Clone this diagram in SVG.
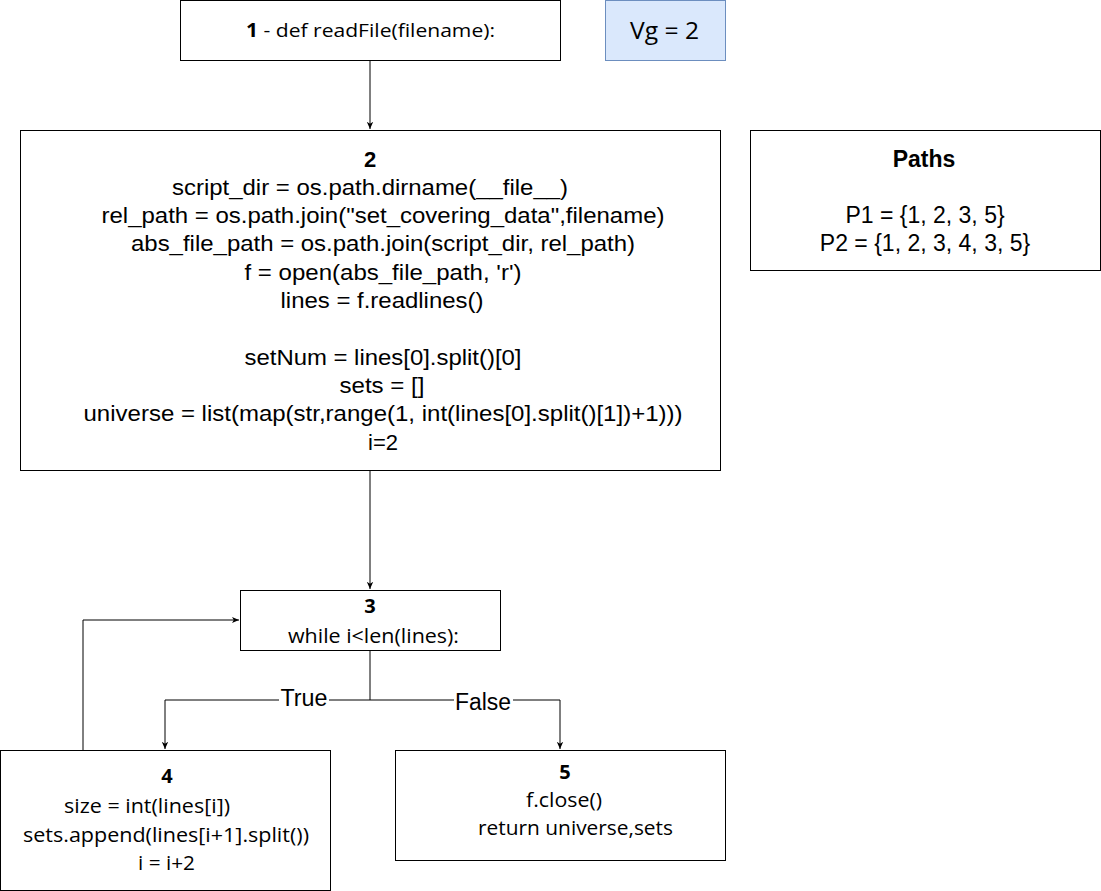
<svg xmlns="http://www.w3.org/2000/svg" width="1101" height="891" viewBox="0 0 1101 891">
  <style>
    .box { fill: #ffffff; stroke: #000000; stroke-width: 1; }
    .vg { fill: #dae8fc; stroke: #6c8ebf; stroke-width: 1; }
    .edge { fill: none; stroke: #000000; stroke-width: 1; }
    .code { font-family: "Liberation Sans", Arial, sans-serif; font-size: 22px; fill: #000; text-anchor: middle; }
    .ui { font-family: "Open Sans", "Liberation Sans", sans-serif; font-size: 19px; fill: #000; }
    .cal { font-family: "Open Sans", "Liberation Sans", sans-serif; font-size: 20px; fill: #000; }
    .b { font-weight: bold; }
    .lbl { font-family: "Liberation Sans", Arial, sans-serif; font-size: 23px; fill: #000; text-anchor: middle; }
    .side { font-family: "Liberation Sans", Arial, sans-serif; font-size: 23px; fill: #000; text-anchor: middle; }
  </style>
  <defs>
    <marker id="arrow" viewBox="0 0 10 10" refX="9" refY="5" markerWidth="8" markerHeight="8" orient="auto" markerUnits="userSpaceOnUse">
      <path d="M0,1 L9,5 L0,9 L2.5,5 Z" fill="#000"/>
    </marker>
  </defs>

  <rect width="1101" height="891" fill="#ffffff"/>

  <g id="connectors">
    <path class="edge" d="M370,60 V129" marker-end="url(#arrow)"/>
    <path class="edge" d="M370,470 V589" marker-end="url(#arrow)"/>
    <path class="edge" d="M370,650 V700 H165 V749" marker-end="url(#arrow)"/>
    <path class="edge" d="M370,700 H560 V749" marker-end="url(#arrow)"/>
    <path class="edge" d="M83,750 V620 H239" marker-end="url(#arrow)" stroke="#666"/>
    <rect x="279" y="686" width="50" height="24" fill="#ffffff"/>
    <text class="lbl" x="304" y="706" textLength="47" lengthAdjust="spacingAndGlyphs">True</text>
    <rect x="454" y="690" width="59" height="24" fill="#ffffff"/>
    <text class="lbl" x="483" y="710" textLength="56" lengthAdjust="spacingAndGlyphs">False</text>
  </g>

  <g id="node1">
    <rect class="box" x="180.5" y="0.5" width="380" height="60"/>
    <text class="ui" x="246" y="37" textLength="249" lengthAdjust="spacingAndGlyphs"><tspan class="b">1</tspan> - def readFile(filename):</text>
  </g>

  <g id="vg">
    <rect class="vg" x="605.5" y="0.5" width="120" height="60"/>
    <text class="ui" x="630" y="39" style="font-size:23px" textLength="69" lengthAdjust="spacingAndGlyphs">Vg = 2</text>
  </g>

  <g id="node2">
    <rect class="box" x="20.5" y="130.5" width="700" height="340"/>
    <text class="code b" x="370" y="167">2</text>
    <text class="code" x="370" y="195" textLength="396" lengthAdjust="spacingAndGlyphs">script_dir = os.path.dirname(__file__)</text>
    <text class="code" x="383" y="223" textLength="563" lengthAdjust="spacingAndGlyphs">rel_path = os.path.join("set_covering_data",filename)</text>
    <text class="code" x="383" y="251" textLength="504" lengthAdjust="spacingAndGlyphs">abs_file_path = os.path.join(script_dir, rel_path)</text>
    <text class="code" x="383" y="280" textLength="277" lengthAdjust="spacingAndGlyphs">f = open(abs_file_path, 'r')</text>
    <text class="code" x="382" y="308" textLength="203" lengthAdjust="spacingAndGlyphs">lines = f.readlines()</text>
    <text class="code" x="383" y="365" textLength="277" lengthAdjust="spacingAndGlyphs">setNum = lines[0].split()[0]</text>
    <text class="code" x="382" y="393" textLength="85" lengthAdjust="spacingAndGlyphs">sets = []</text>
    <text class="code" x="383" y="421" textLength="599" lengthAdjust="spacingAndGlyphs">universe = list(map(str,range(1, int(lines[0].split()[1])+1)))</text>
    <text class="code" x="383" y="450">i=2</text>
  </g>

  <g id="paths">
    <rect class="box" x="750.5" y="130.5" width="350" height="140"/>
    <text class="side b" x="924" y="167">Paths</text>
    <text class="side" x="925" y="223">P1 = {1, 2, 3, 5}</text>
    <text class="side" x="925" y="251">P2 = {1, 2, 3, 4, 3, 5}</text>
  </g>

  <g id="node3">
    <rect class="box" x="240.5" y="590.5" width="260" height="60"/>
    <text class="cal b" x="370" y="613" text-anchor="middle">3</text>
    <text class="cal" x="288" y="643" textLength="171" lengthAdjust="spacingAndGlyphs">while i&lt;len(lines):</text>
  </g>

  <g id="node4">
    <rect class="box" x="0.5" y="750.5" width="330" height="140"/>
    <text class="cal b" x="167" y="783" text-anchor="middle">4</text>
    <text class="cal" x="64" y="813" textLength="166" lengthAdjust="spacingAndGlyphs">size = int(lines[i])</text>
    <text class="cal" x="23" y="842" textLength="286" lengthAdjust="spacingAndGlyphs">sets.append(lines[i+1].split())</text>
    <text class="cal" x="138" y="870" textLength="57" lengthAdjust="spacingAndGlyphs">i = i+2</text>
  </g>

  <g id="node5">
    <rect class="box" x="395.5" y="750.5" width="330" height="110"/>
    <text class="cal b" x="565" y="779" text-anchor="middle">5</text>
    <text class="cal" x="526" y="807" textLength="76" lengthAdjust="spacingAndGlyphs">f.close()</text>
    <text class="cal" x="478" y="835" textLength="195" lengthAdjust="spacingAndGlyphs">return universe,sets</text>
  </g>
</svg>
